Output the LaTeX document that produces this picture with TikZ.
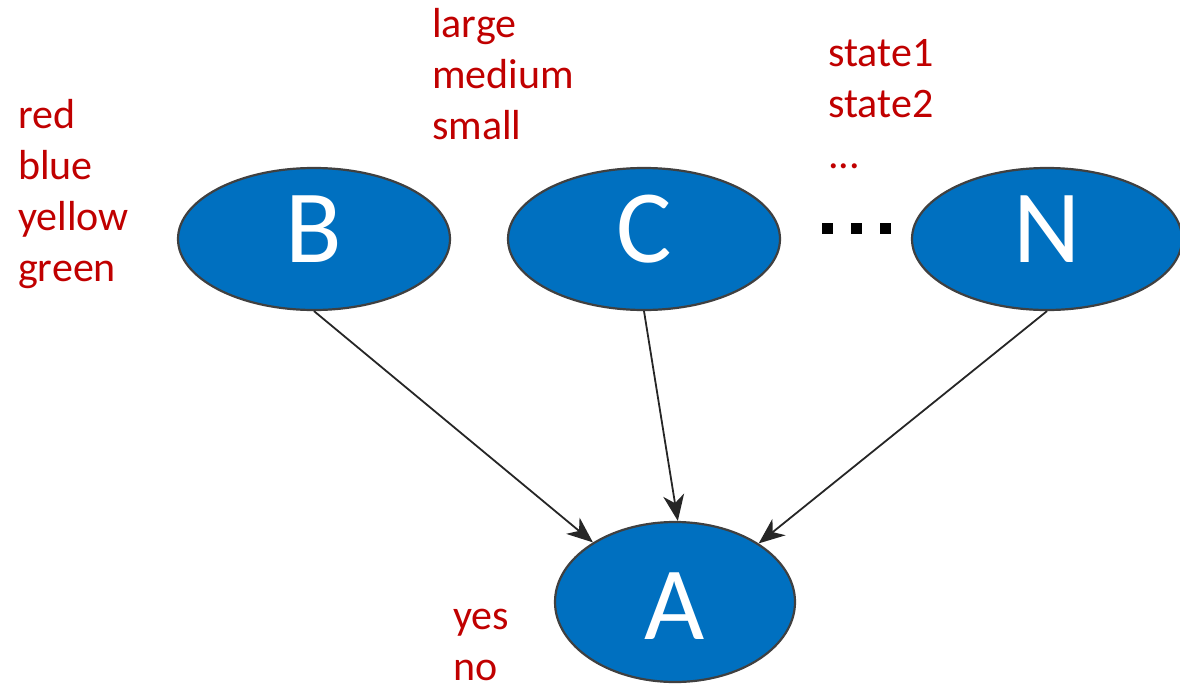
\documentclass[tikz,border=0pt]{standalone}
\usepackage{fontspec}
\setmainfont{Carlito}
\usetikzlibrary{shapes.geometric,arrows.meta}
\definecolor{nodeblue}{HTML}{0070C0}
\definecolor{nodeedge}{HTML}{404040}
\definecolor{statered}{HTML}{C00000}
\definecolor{arrowgray}{HTML}{262626}
\tikzset{
  var/.style={ellipse, draw=nodeedge, line width=2.2pt, fill=nodeblue, inner sep=0pt,
    text=white, font=\fontsize{104}{104}\selectfont},
  % anchored at the baseline of the last line of the list
  states/.style={anchor=base west, inner sep=0pt, text=statered, align=left,
    font=\fontsize{42}{51}\selectfont},
  link/.style={draw=arrowgray, line width=1.8pt,
    -{Stealth[length=26pt, width=21pt, inset=8pt]}}
}
\begin{document}
\begin{tikzpicture}[x=1pt, y=-1pt]
\useasboundingbox (0,0) rectangle (1180,685);
% variable nodes
\node[var, minimum width=272pt, minimum height=142pt, text depth=20pt] (B) at (314,239) {B};
\node[var, minimum width=272pt, minimum height=142pt, text depth=20pt] (C) at (644,239) {C};
\node[var, minimum width=270pt, minimum height=142pt, text depth=20pt] (N) at (1047,239) {N};
\node[var, minimum width=240pt, minimum height=160pt, text height=75pt] (A) at (675,602) {A};
% ellipsis between C and N
\node[inner sep=0pt] (dots) at (856,228.5)
  {\rule{11pt}{11pt}\hspace{18pt}\rule{11pt}{11pt}\hspace{18pt}\rule{11pt}{11pt}};
% state lists
\node[states] (sB) at (18,281) {red\\blue\\yellow\\green};
\node[states] (sC) at (432,139) {large\\medium\\small};
\node[states] (sN) at (828,168) {state1\\state2\\...};
\node[states] (sA) at (453,680) {yes\\no};
% arcs
\draw[link] (B.south) -- (A.144);
\draw[link] (C.south) -- (A.88);
\draw[link] (N.south) -- (A.35);
\end{tikzpicture}
\end{document}
